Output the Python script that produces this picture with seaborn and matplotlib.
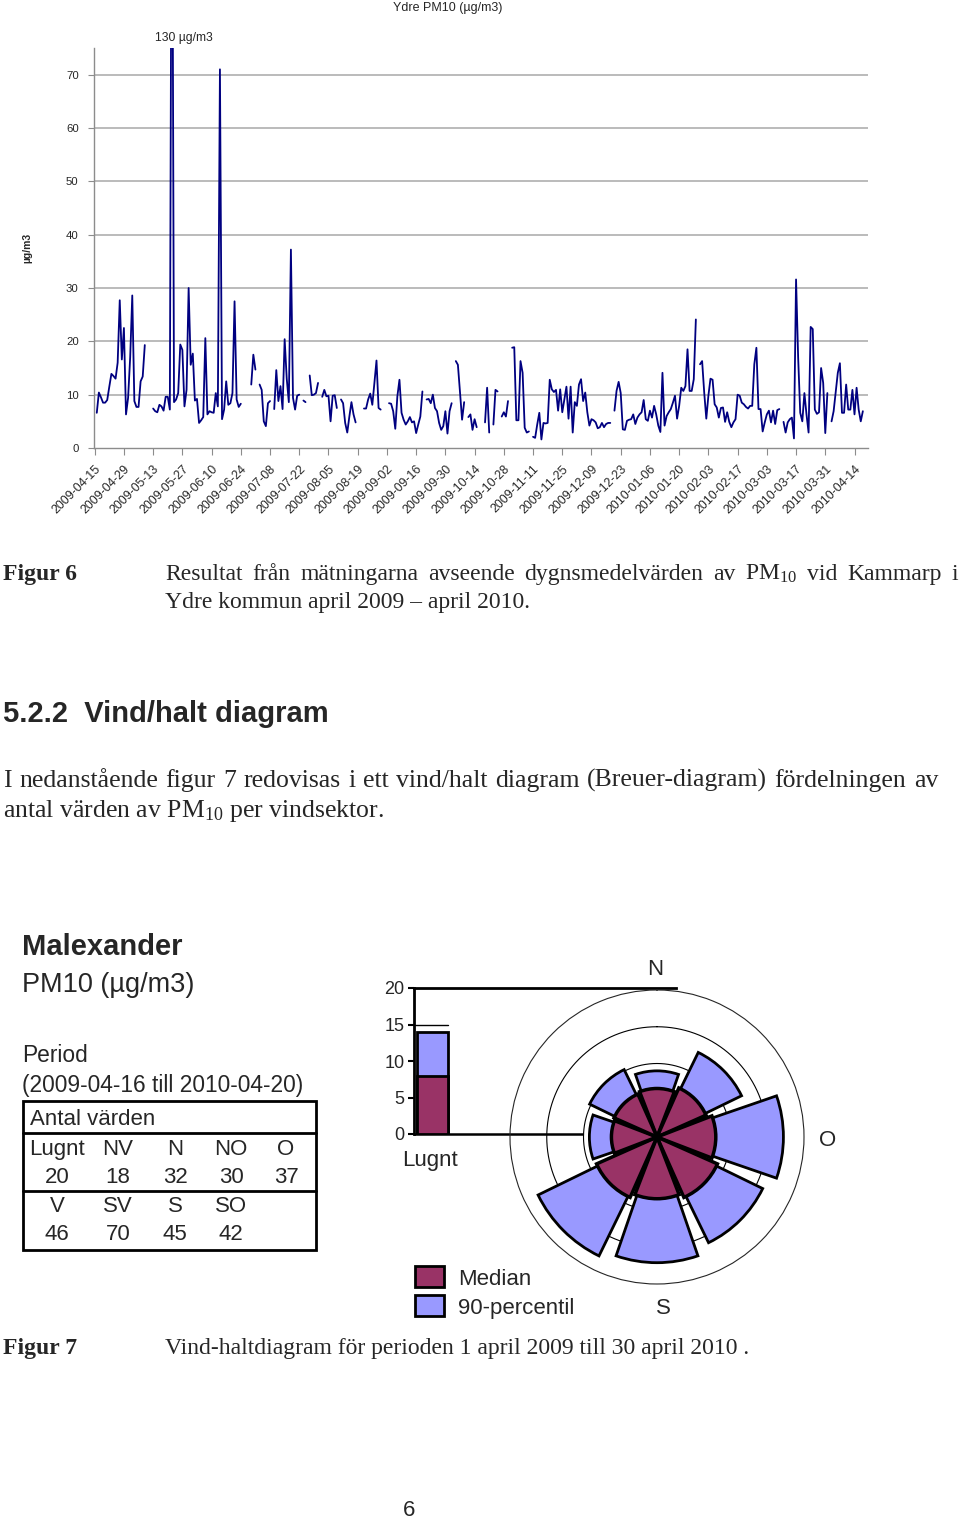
import matplotlib
matplotlib.use("Agg")
import numpy as np
import pandas as pd
import matplotlib.pyplot as plt
import seaborn as sns
from matplotlib.patches import Rectangle
from matplotlib.lines import Line2D
from matplotlib.transforms import ScaledTranslation

# ---------------- data: Ydre PM10 daily means (µg/m3), from 2009-04-16 ----------------
N_ = None
apr09 = [6.6, 10.4, 9.5, 8.5, 8.5, 9.0, 11.5, 13.9, 13.5, 13.0, 16.0, 27.7, 16.6, 22.5, 6.3]
may09 = [9.4, 17.0, 28.6, 8.8, 7.7, 7.7, 12.5, 13.4, 19.3, N_, N_, N_, 7.4, 6.9, 6.7, 8.1,
         7.8, 7.0, 9.6, 9.6, 7.2, 130, 8.6, 9.1, 10.3, 19.4, 18.4, 7.8, 10.9, 30, 15.6]
jun09 = [17.7, 8.9, 9.2, 4.7, 5.2, 5.8, 20.6, 6.3, 6.9, 6.7, 6.6, 10.3, 7.8, 71, 5.4, 7.2,
         12.5, 8.1, 8.4, 10.3, 27.5, 9.1, 7.7, 8.3, N_, N_, N_, N_, 11.9, 17.5]
jul09 = [14.7, N_, 11.9, 10.9, 5.0, 4.1, 8.4, 8.8, N_, 7.3, 14.6, 8.8, 11.6, 7.3, 20.4, 13.0,
         8.6, 37.2, 9.4, 7.2, 9.8, 10.0, N_, 8.9, 8.6, N_, 13.6, 9.9, 10.0, 10.3, 12.2]
aug09 = [N_, 9.6, 10.9, 9.7, 9.8, 5.0, 9.8, 9.9, 7.5, N_, 9.1, 8.4, 4.7, 2.9, 5.9, 8.6,
         6.3, 4.8, N_, N_, N_, 7.4, 7.4, 9.1, 10.2, 8.1, 12.2, 16.4, 7.5, 7.2, N_]
sep09 = [N_, N_, 8.4, 8.3, 6.9, 3.6, 9.7, 12.8, 6.6, 5.3, 4.4, 5.0, 5.8, 4.8, 5.0, 2.8,
         4.4, 5.9, 10.6, N_, 9.1, 9.2, 8.4, 10.0, 7.5, 6.9, 4.7, 3.4, 4.1, 6.9]
oct09 = [2.7, 6.9, 8.4, N_, 16.3, 15.6, 10.5, 5.3, 8.6, N_, 5.8, 6.3, 3.4, 5.4, 3.9, N_,
         N_, N_, 4.8, 11.3, 2.9, N_, 4.4, 10.9, 10.6, N_, 5.9, 6.7, 5.9, 8.8, N_]
nov09 = [18.8, 18.9, 5.2, 5.2, 16.3, 14.1, 3.8, 2.9, 3.1, N_, 2.1, 1.9, 4.4, 6.6, 1.6, 4.7,
         4.6, 4.7, 12.8, 11.0, 10.5, 10.9, 7.0, 11.0, 6.7, 9.1, 11.5, 5.5, 11.5, 2.9]
dec09 = [8.6, 7.9, 11.9, 12.9, 8.8, 10.4, 6.7, 4.2, 5.4, 5.2, 4.8, 3.7, 3.9, 4.7, 3.9, 4.5,
         4.7, 4.7, N_, 7.0, 10.7, 12.4, 10.3, 3.5, 3.4, 5.1, 5.3, 5.4, 6.3, 4.5, 5.7]
jan10 = [6.3, 6.7, 9.0, 5.4, 5.1, 7.0, 5.7, 7.9, 6.3, 4.2, 3.0, 14.1, 4.2, 6.0, 6.7, 7.3,
         8.5, 9.8, 5.5, 7.9, 11.3, 10.7, 11.6, 18.5, 10.7, 10.7, 12.9, 24.1, N_, 15.7, 16.3]
feb10 = [10.4, 5.5, 9.8, 13.0, 12.8, 8.2, 7.6, 5.7, 7.5, 7.6, 4.9, 6.7, 4.9, 3.9, 4.8, 5.4,
         10.0, 9.8, 8.5, 8.2, 7.7, 7.4, 7.9, 7.9, 15.7, 18.8, 7.3, 7.3]
mar10 = [3.1, 4.8, 6.3, 7.0, 4.8, 7.0, 4.5, 7.1, 7.3, N_, 4.9, 2.9, 4.8, 5.4, 5.7, 1.8,
         31.6, 17.0, 6.6, 5.0, 10.3, 6.3, 2.9, 22.7, 22.3, 7.2, 6.4, 6.7, 15.0, 12.2, 2.8]
apr10 = [10.3, N_, 5.0, 6.9, 10.5, 14.1, 15.9, 6.6, 6.6, 11.9, 7.2, 7.2, 10.9, 6.3, 11.3,
         7.2, 5.0, 6.9]
start_date = "2009-04-16"
y_ticks = [0, 10, 20, 30, 40, 50, 60, 70]

# ---------------- data: Malexander wind/concentration (Breuer) ----------------
sectors = ["N", "NO", "O", "SO", "S", "SV", "V", "NV"]
sector_deg = [0, 45, 90, 135, 180, 225, 270, 315]
median = [6.6, 7.3, 8.0, 9.0, 8.4, 9.0, 6.2, 6.4]
p90 = [9.0, 12.8, 17.2, 16.0, 17.1, 18.0, 9.2, 10.2]
calm_label = "Lugnt"
calm_median = 8.0
calm_p90 = 14.0
count_row1 = ["Lugnt", "NV", "N", "NO", "O"]
count_val1 = ["20", "18", "32", "30", "37"]
count_row2 = ["V", "SV", "S", "SO"]
count_val2 = ["46", "70", "45", "42"]

# ---------------- style ----------------
sns.set_style("white")
plt.rcParams["font.family"] = ["Liberation Sans", "DejaVu Sans"]
plt.rcParams["mathtext.fontset"] = "custom"
plt.rcParams["mathtext.rm"] = "Liberation Serif"
plt.rcParams["mathtext.it"] = "Liberation Serif:italic"
plt.rcParams["mathtext.bf"] = "Liberation Serif:bold"
SERIF = ["Liberation Serif", "DejaVu Serif"]
SANS = ["Liberation Sans", "DejaVu Sans"]
NAVY = "#000080"
MAROON = "#993366"
LAV = "#9999ff"

W, H = 960, 1522
fig = plt.figure(figsize=(W / 100, H / 100), dpi=100)
fig.patch.set_facecolor("white")


def fx(x):
    return x / W


def fy(y):
    return 1 - y / H


def rect(l, t, r, b):
    return [fx(l), fy(b), (r - l) / W, (b - t) / H]


def txt(x, y, s, size, family=SANS, ha="left", va="baseline", **kw):
    return fig.text(fx(x), fy(y), s, fontsize=size, family=family, ha=ha, va=va, **kw)


renderer = fig.canvas.get_renderer()


def justified(text, x0, x1, yb, size, family=SERIF, **kw):
    words = text.split(" ")
    objs = [txt(x0, yb, w, size, family=family, **kw) for w in words]
    ws = [o.get_window_extent(renderer).width for o in objs]
    gap = (x1 - x0 - sum(ws)) / (len(words) - 1)
    x = x0
    for o, w in zip(objs, ws):
        o.set_x(fx(x))
        x += w + gap


# ---------------- time series ----------------
values = apr09 + may09 + jun09 + jul09 + aug09 + sep09 + oct09 + nov09 + dec09 + jan10 + feb10 + mar10 + apr10
dates = pd.date_range(start_date, periods=len(values), freq="D")
s = pd.Series([np.nan if v is None else v for v in values], index=dates, dtype=float)
df = pd.DataFrame({"date": dates, "pm10": s.values, "seg": s.isna().cumsum().values}).dropna()

ax = fig.add_axes(rect(94, 48, 868, 448))
sns.lineplot(data=df, x="date", y="pm10", units="seg", estimator=None, color=NAVY,
             lw=1.3, ax=ax, legend=False, zorder=3)
ax.set_ylim(0, 75)
x0 = pd.Timestamp("2009-04-15") - pd.Timedelta(hours=8)
ax.set_xlim(x0, x0 + pd.Timedelta(days=370.8))
ticks = pd.date_range("2009-04-15", periods=27, freq="14D")
ax.set_xticks(ticks)
ax.set_xticklabels([t.strftime("%Y-%m-%d") for t in ticks], rotation=45, ha="right",
                   va="top", rotation_mode="anchor", fontsize=8.9)
shift = ScaledTranslation(-6 / 100, 0, fig.dpi_scale_trans)
for lbl in ax.get_xticklabels():
    lbl.set_transform(lbl.get_transform() + shift)
ax.set_yticks(y_ticks)
ax.set_yticklabels([str(v) for v in y_ticks], fontsize=8.2)
ax.set_xlabel("")
ax.set_ylabel("")
ax.grid(False)
for v in y_ticks[1:]:
    ax.axhline(v, color="#a8a8a8", lw=1.1, zorder=1)
for sp in ["top", "right"]:
    ax.spines[sp].set_visible(False)
for sp in ["left", "bottom"]:
    ax.spines[sp].set_color("#8c8c8c")
    ax.spines[sp].set_linewidth(1)
ax.tick_params(axis="x", bottom=True, length=5, color="#8c8c8c", pad=6)
ax.tick_params(axis="y", left=True, length=4, color="#8c8c8c", pad=7)

txt(448, 8, "Ydre PM10 (µg/m3)", 9, ha="center", va="center")
txt(184, 38, "130 µg/m3", 8.7, ha="center", va="center")
txt(27, 248, "µg/m3", 7.5, ha="center", va="center", rotation=90, weight="bold")

# ---------------- page text ----------------
txt(3, 580, "Figur 6", 17, family=SERIF, weight="bold")
justified("Resultat från mätningarna avseende dygnsmedelvärden av PM$_{10}$ vid Kammarp i",
          165, 958, 580, 17)
txt(165, 608, "Ydre kommun april 2009 – april 2010.", 17, family=SERIF)

txt(3, 722, "5.2.2  Vind/halt diagram", 21, weight="bold")
justified("I nedanstående figur 7 redovisas i ett vind/halt diagram (Breuer-diagram) fördelningen av",
          3, 938, 787, 18.5)
txt(3, 817, "antal värden av PM$_{10}$ per vindsektor.", 18.5, family=SERIF)

txt(3, 1354, "Figur 7", 17, family=SERIF, weight="bold")
txt(165, 1354, "Vind-haltdiagram för perioden 1 april 2009 till 30 april 2010 .", 17, family=SERIF)
txt(409, 1516, "6", 16, ha="center")

# ---------------- Breuer left block ----------------
txt(22, 955, "Malexander", 21, weight="bold")
txt(22, 992, "PM10 (µg/m3)", 19.5)
txt(22, 1062, "Period", 16.4)
txt(22, 1092, "(2009-04-16 till 2010-04-20)", 16.4)
fig.patches.append(Rectangle((fx(23), fy(1250)), (316 - 23) / W, (1250 - 1101) / H,
                             transform=fig.transFigure, fill=False, ec="black", lw=2))
for yy in (1133, 1191):
    fig.add_artist(Line2D([fx(23), fx(316)], [fy(yy), fy(yy)], color="black", lw=2))
txt(30, 1125, "Antal värden", 16)
cols = [57, 118, 175, 231, 286]
for c, a, b in zip(cols, count_row1, count_val1):
    txt(c, 1155, a, 16, ha="center")
    txt(c, 1183, b, 16, ha="center")
for c, a, b in zip(cols, count_row2, count_val2):
    txt(c, 1212, a, 16, ha="center")
    txt(c, 1240, b, 16, ha="center")

# ---------------- calm bar ----------------
axb = fig.add_axes(rect(414, 988, 676, 1134))
sns.barplot(x=[calm_label], y=[calm_p90], color=LAV, saturation=1, edgecolor="black",
            linewidth=2, width=0.8, ax=axb)
sns.barplot(x=[calm_label], y=[calm_median], color=MAROON, saturation=1, edgecolor="black",
            linewidth=2, width=0.8, ax=axb)
unit = 31 / 0.8
xl = -0.4 - 3 / unit
axb.set_xlim(xl, xl + 262 / unit)
axb.set_ylim(0, 20)
axb.patch.set_alpha(0)
axb.set_xticks([])
axb.set_yticks([0, 5, 10, 15, 20])
axb.set_yticklabels(["0", "5", "10", "15", "20"], fontsize=13)
axb.tick_params(axis="y", left=True, length=4, width=1.5, color="black", pad=3)
for sp in ["right", "bottom"]:
    axb.spines[sp].set_visible(False)
axb.spines["left"].set_linewidth(2)
axb.spines["top"].set_linewidth(2)
axb.spines["left"].set_color("black")
axb.spines["top"].set_color("black")
axb.plot([xl, xl + (588 - 414) / unit], [0, 0], color="black", lw=1.8, clip_on=False, zorder=0)
axb.plot([xl, xl + (448 - 414) / unit], [15, 15], color="black", lw=1, clip_on=False, zorder=0)
axb.set_xlabel("")
axb.set_ylabel("")
txt(430, 1166, calm_label, 16, ha="center")

# ---------------- rose ----------------
R = 147
cx, cy = 657, 1137
axr = fig.add_axes(rect(cx - R, cy - R, cx + R, cy + R), projection="polar")
axr.set_theta_zero_location("N")
axr.set_theta_direction(-1)
axr.set_ylim(0, 20)
axr.patch.set_facecolor("none")
axr.grid(False)
axr.set_xticks([])
axr.set_yticks([])
axr.spines["polar"].set_linewidth(0.8)
th = np.linspace(0, 2 * np.pi, 721)
axr.fill_between(th, 0, 10, color="white", zorder=1)
axr.plot(th, np.full_like(th, 10), color="black", lw=0.8, zorder=2)
axr.plot(th, np.full_like(th, 15), color="black", lw=0.8, zorder=2)
ang = np.deg2rad(sector_deg)
axr.bar(ang, p90, width=np.deg2rad(38), color=LAV, edgecolor="black", lw=2, zorder=3)
axr.bar(ang, median, width=np.deg2rad(42), color=MAROON, edgecolor="black", lw=2.5, zorder=4)

txt(655, 975, "N", 16, ha="center")
txt(828, 1146, "O", 16, ha="center")
txt(663, 1314, "S", 16, ha="center")

# legend
for yt, yb_, col, lab, base in [(1266, 1287, MAROON, "Median", 1285),
                                (1295, 1316, LAV, "90-percentil", 1314)]:
    fig.patches.append(Rectangle((fx(415), fy(yb_)), 29 / W, (yb_ - yt) / H,
                                 transform=fig.transFigure, fc=col, ec="black", lw=2))
    txt(458, base, lab, 16)

fig.savefig("out.png", dpi=100, facecolor="white")
